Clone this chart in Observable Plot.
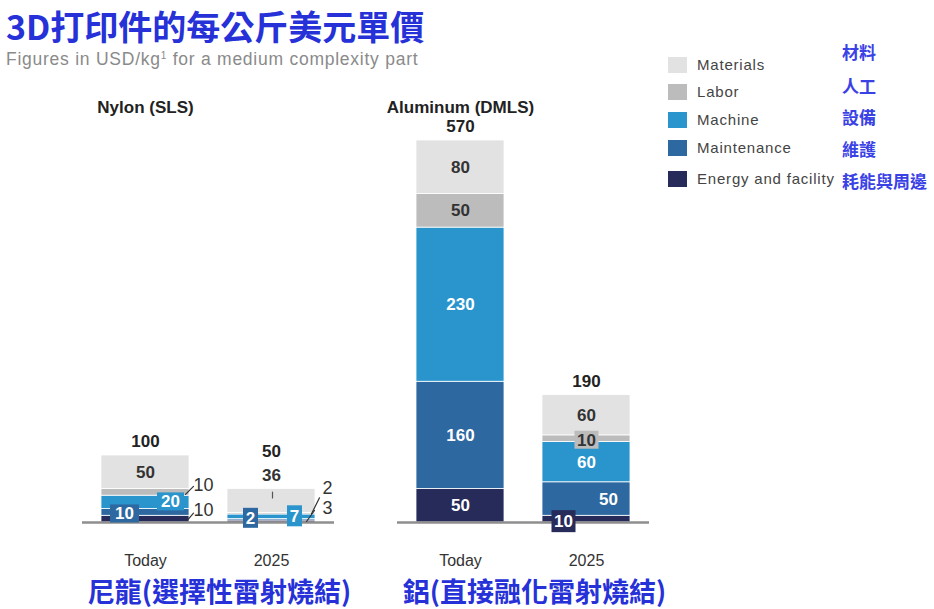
<!DOCTYPE html>
<html>
<head>
<meta charset="utf-8">
<script src="https://cdn.jsdelivr.net/npm/d3@7"></script>
<script src="https://cdn.jsdelivr.net/npm/@observablehq/plot@0.6"></script>
<style>
  body { margin: 0; background: #fff; }
  #wrap { position: relative; width: 934px; height: 609px; overflow: hidden; font-family: "Liberation Sans", Arial, sans-serif; }
  #title { position: absolute; left: 6px; top: 9px; font: bold 34px/1 "Noto Sans CJK TC", sans-serif; color: #2631d8; white-space: nowrap; }
  #subtitle { position: absolute; left: 6px; top: 51px; font-size: 17.5px; line-height: 1; letter-spacing: 0.75px; color: #8a8a8a; white-space: nowrap; }
  #subtitle sup { font-size: 10px; vertical-align: 6px; }
  #chart { position: absolute; left: 0; top: 78px; }
  .sw { position: absolute; left: 668px; width: 19px; height: 16px; }
  .lt { position: absolute; left: 697px; font-size: 15px; line-height: 1; letter-spacing: 0.8px; color: #444; white-space: nowrap; }
  .lz { position: absolute; left: 842px; font: bold 17px/1 "Noto Sans CJK TC", sans-serif; color: #3a42e6; white-space: nowrap; }
</style>
</head>
<body>
<div id="wrap">
  <div id="title">3D打印件的每公斤美元單價</div>
  <div id="subtitle">Figures in USD/kg<sup>1</sup> for a medium complexity part</div>
  <div id="chart"></div>
</div>
<script>
// ---------- data ----------
const materials = ["Nylon (SLS)", "Aluminum (DMLS)"];
const materialsZh = ["尼龍(選擇性雷射燒結)", "鋁(直接融化雷射燒結)"];
const periods = ["Today", "2025"];
const components = ["Energy and facility", "Maintenance", "Machine", "Labor", "Materials"]; // bottom to top
const componentsZh = ["耗能與周邊", "維護", "設備", "人工", "材料"];
const nylonToday = [10, 10, 20, 10, 50];
const nylon2025 = [3, 2, 7, 2, 36];
const aluminumToday = [50, 160, 230, 50, 80];
const aluminum2025 = [10, 50, 60, 10, 60];
const nylonTotals = [100, 50];
const aluminumTotals = [570, 190];

// ---------- styles ----------
const colors = ["#262b59", "#2d68a1", "#2a95cc", "#bcbcbc", "#e2e2e2"];
const darkText = "#333";
const numFont = "'Liberation Sans', Arial, sans-serif";

// ---------- table ----------
const series = [[nylonToday, nylon2025], [aluminumToday, aluminum2025]];
const totals = [nylonTotals, aluminumTotals];
const rows = [];
const bars = [];
materials.forEach((m, i) => periods.forEach((p, j) => {
  let acc = 0;
  series[i][j].forEach((v, k) => {
    rows.push({material: m, period: p, component: components[k], value: v, y1: acc, y2: acc + v, mid: acc + v / 2});
    acc += v;
  });
  bars.push({material: m, period: p, total: totals[i][j]});
}));

// label placement (pixel offsets relative to bar centre / segment middle)
const spec = {
  "Nylon (SLS)|Today|Labor": {kind: "out", dx: 48, dy: -7, leader: [40, 2, 48, -6]},
  "Nylon (SLS)|Today|Machine": {kind: "box", dx: 25, dy: -1, w: 27, h: 18},
  "Nylon (SLS)|Today|Maintenance": {kind: "box", dx: -21, dy: 1, w: 29, h: 18},
  "Nylon (SLS)|Today|Energy and facility": {kind: "out", dx: 48, dy: -9, leader: [42, 1, 48, -6]},
  "Nylon (SLS)|2025|Materials": {kind: "above", dy: -13},
  "Nylon (SLS)|2025|Labor": {kind: "out", dx: 51, dy: -26, leader: [40, 0, 48, -16]},
  "Nylon (SLS)|2025|Machine": {kind: "box", dx: 23, dy: -1, w: 15, h: 21},
  "Nylon (SLS)|2025|Maintenance": {kind: "box", dx: -21, dy: -2, w: 15, h: 20},
  "Nylon (SLS)|2025|Energy and facility": {kind: "out", dx: 51, dy: -13, leader: [35, 0, 43, -11]},
  "Aluminum (DMLS)|2025|Labor": {kind: "box", dx: 0, dy: 1, w: 24, h: 18},
  "Aluminum (DMLS)|2025|Maintenance": {kind: "in", dx: 22, dy: 1},
  "Aluminum (DMLS)|2025|Energy and facility": {kind: "box", dx: -23, dy: 2, w: 24, h: 22}
};
const isGray = c => c === "Labor" || c === "Materials";
const colorOf = c => colors[components.indexOf(c)];

const lineShape = {draw(ctx, l) { ctx.moveTo(0, 0); ctx.lineTo(0, -l); }};
const rectSymbol = (w, h) => ({draw(ctx) { ctx.rect(-w / 2, -h / 2, w, h); }});

const labelMarks = [];
rows.forEach(d => {
  const s = spec[`${d.material}|${d.period}|${d.component}`] || {kind: "in", dx: 0, dy: 0};
  const base = {fx: "material", x: "period", fontFamily: numFont, fontWeight: "bold", fontSize: 17};
  if (s.kind === "in") {
    labelMarks.push(Plot.text([d], {...base, y: "mid", text: "value", dx: s.dx, dy: s.dy, fill: isGray(d.component) ? darkText : "white"}));
  } else if (s.kind === "box") {
    labelMarks.push(Plot.dot([d], {fx: "material", x: "period", y: "mid", dx: s.dx, dy: s.dy, symbol: rectSymbol(s.w, s.h), fill: colorOf(d.component), stroke: "none"}));
    labelMarks.push(Plot.text([d], {...base, y: "mid", text: "value", dx: s.dx, dy: s.dy + 0.5, fill: isGray(d.component) ? darkText : "white"}));
  } else if (s.kind === "out") {
    const [x1, y1, x2, y2] = s.leader;
    labelMarks.push(Plot.vector([d], {fx: "material", x: "period", y: "mid", dx: x1, dy: y1, anchor: "start",
      length: Math.hypot(x2 - x1, y2 - y1), rotate: Math.atan2(x2 - x1, -(y2 - y1)) * 180 / Math.PI,
      shape: lineShape, stroke: "#333", strokeWidth: 1.2}));
    labelMarks.push(Plot.text([d], {...base, fontWeight: "normal", fontSize: 18, y: "mid", text: "value", dx: s.dx, dy: s.dy, textAnchor: "start", fill: darkText}));
  } else if (s.kind === "above") {
    labelMarks.push(Plot.vector([d], {fx: "material", x: "period", y: "y2", dx: 1, dy: 3, anchor: "start", length: 6, rotate: 180,
      shape: lineShape, stroke: "#555", strokeWidth: 1.2}));
    labelMarks.push(Plot.text([d], {...base, y: "y2", text: "value", dx: 0, dy: s.dy, fill: darkText}));
  }
});
const totalMarks = bars.map(b => {
  const lifted = rows.some(d => d.material === b.material && d.period === b.period &&
    (spec[`${d.material}|${d.period}|${d.component}`] || {}).kind === "above");
  return Plot.text([b], {fx: "material", x: "period", y: "total", text: "total", dy: lifted ? -37 : -14,
    fontFamily: numFont, fontWeight: "bold", fontSize: 17, fill: "#222"});
});

const chart = Plot.plot({
  width: 934,
  height: 531,
  marginTop: 62,
  marginBottom: 87,
  marginLeft: 82,
  marginRight: 285,
  facet: {marginTop: 0, marginRight: 0, marginBottom: 0, marginLeft: 0},
  fx: {domain: materials, paddingInner: 0.2, paddingOuter: 0},
  x: {domain: periods, paddingInner: 0.3, paddingOuter: 0.15},
  y: {domain: [0, 570], axis: null},
  color: {domain: components, range: colors},
  style: {fontFamily: numFont, background: "transparent", overflow: "visible"},
  marks: [
    Plot.barY(rows, {fx: "material", x: "period", y1: "y1", y2: "y2", fill: "component", stroke: "white", strokeWidth: 0.8}),
    Plot.ruleY([0], {stroke: "#8e8e8e", strokeWidth: 2.5}),
    ...labelMarks,
    ...totalMarks,
    Plot.text(materials, {fx: d => d, x: () => "Today", frameAnchor: "top", dy: -40, text: d => d,
      fontFamily: numFont, fontWeight: "bold", fontSize: 17, fill: "#222"}),
    Plot.axisX({anchor: "bottom", tickSize: 0, tickPadding: 32, fontSize: 16, label: null, fill: "#333"}),
    Plot.axisFx({anchor: "bottom", tickSize: 0, tickPadding: 60, dx: 11, label: null,
      tickFormat: d => materialsZh[materials.indexOf(d)],
      fontSize: 27, fontWeight: "bold", fontFamily: "'Noto Sans CJK TC', sans-serif", fill: "#2631d8"})
  ]
});
document.getElementById("chart").appendChild(chart);

// ---------- legend ----------
const wrap = document.getElementById("wrap");
const legendY = [64.5, 92, 120, 147.5, 178.5];
const legendZhY = [52, 86, 117, 149, 181];
components.slice().reverse().forEach((c, i) => {
  const sw = document.createElement("div");
  sw.className = "sw";
  sw.style.top = (legendY[i] - 8) + "px";
  sw.style.background = colorOf(c);
  wrap.appendChild(sw);
  const t = document.createElement("div");
  t.className = "lt";
  t.style.top = (legendY[i] - 8) + "px";
  t.textContent = c;
  wrap.appendChild(t);
  const z = document.createElement("div");
  z.className = "lz";
  z.style.top = (legendZhY[i] - 9) + "px";
  z.textContent = componentsZh[components.indexOf(c)];
  wrap.appendChild(z);
});
</script>
</body>
</html>
